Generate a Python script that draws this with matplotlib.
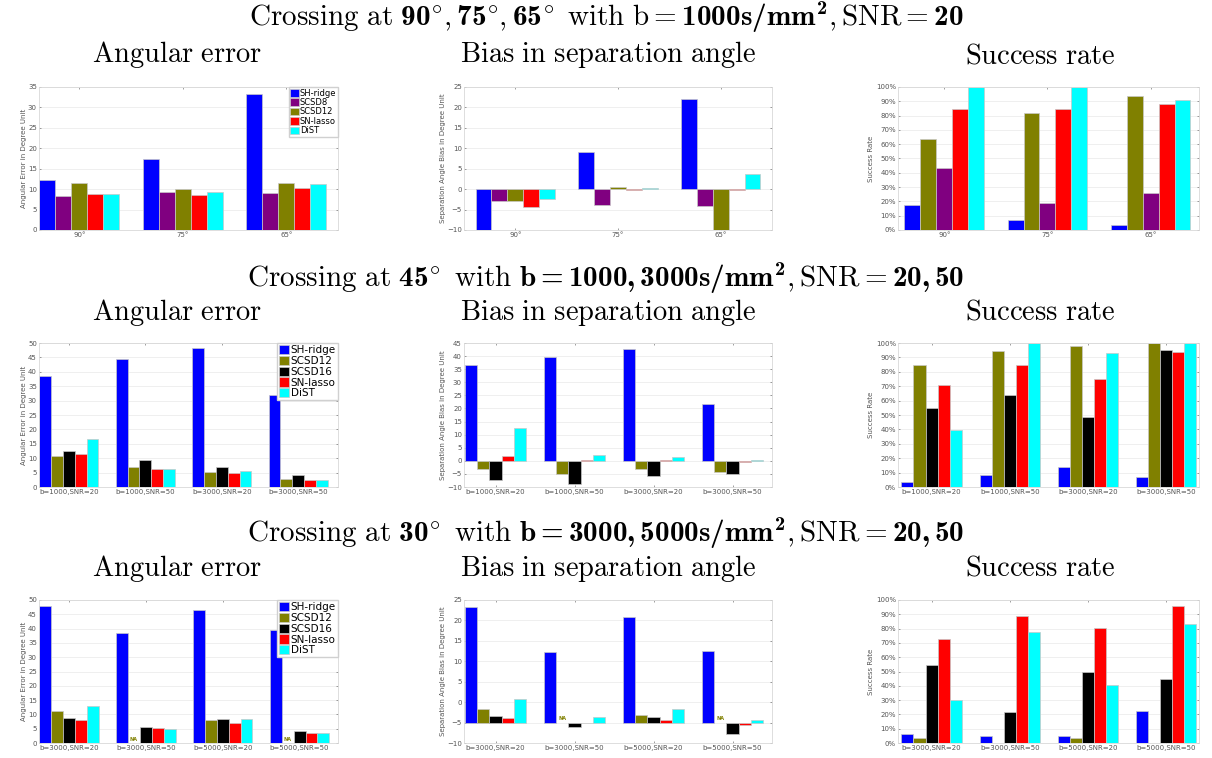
import matplotlib
matplotlib.use("Agg")
import matplotlib.pyplot as plt
import numpy as np

# computer modern text with real bold digits for the headings
plt.rcParams["mathtext.fontset"] = "custom"
plt.rcParams["mathtext.rm"] = "cmr10"
plt.rcParams["mathtext.bf"] = "cmb10"
plt.rcParams["mathtext.it"] = "cmmi10"
plt.rcParams["mathtext.fallback"] = "cm"
plt.rcParams["font.family"] = "DejaVu Sans"

# colours per method
C = {"SH-ridge": "#0000ff", "SCSD8": "#800080", "SCSD12": "#808000",
     "SCSD16": "#000000", "SN-lasso": "#ff0000", "DiST": "#00ffff"}

# ---- row 1: crossing at 90/75/65, b=1000, SNR=20
r1_groups = ["90°", "75°", "65°"]
r1_methods = ["SH-ridge", "SCSD8", "SCSD12", "SN-lasso", "DiST"]
r1_err = {"SH-ridge": [12.3, 17.3, 33.4], "SCSD8": [8.4, 9.2, 9.1],
          "SCSD12": [11.6, 10.1, 11.6], "SN-lasso": [8.7, 8.6, 10.4],
          "DiST": [8.7, 9.4, 11.3]}
r1_bias = {"SH-ridge": [-10.0, 9.0, 22.1], "SCSD8": [-3.0, -3.8, -4.2],
           "SCSD12": [-3.0, 0.5, -10.0], "SN-lasso": [-4.4, -0.3, -0.25],
           "DiST": [-2.5, 0.4, 3.8]}
r1_succ_methods = ["SH-ridge", "SCSD12", "SCSD8", "SN-lasso", "DiST"]
r1_succ = {"SH-ridge": [17.5, 7.2, 3.7], "SCSD12": [63.8, 81.8, 93.5],
           "SCSD8": [43.5, 18.7, 26.2], "SN-lasso": [84.6, 84.6, 87.9],
           "DiST": [100, 100, 90.7]}

# ---- row 2: crossing at 45
r2_groups = ["b=1000,SNR=20", "b=1000,SNR=50", "b=3000,SNR=20", "b=3000,SNR=50"]
r2_methods = ["SH-ridge", "SCSD12", "SCSD16", "SN-lasso", "DiST"]
r2_err = {"SH-ridge": [38.6, 44.6, 48.4, 32.0], "SCSD12": [10.7, 6.8, 5.3, 2.9],
          "SCSD16": [12.5, 9.5, 6.8, 4.3], "SN-lasso": [11.6, 6.2, 4.8, 2.5],
          "DiST": [16.6, 6.2, 5.7, 2.3]}
r2_bias = {"SH-ridge": [36.7, 39.5, 42.7, 21.7], "SCSD12": [-3.3, -4.9, -3.2, -4.1],
           "SCSD16": [-7.4, -9.0, -5.9, -5.1], "SN-lasso": [2.0, 0.25, 0.5, -0.6],
           "DiST": [12.4, 2.2, 1.5, 0.3]}
r2_succ = {"SH-ridge": [3.5, 8.6, 13.8, 6.8], "SCSD12": [84.8, 94.6, 98.1, 100],
           "SCSD16": [54.9, 63.8, 48.6, 95.3], "SN-lasso": [70.8, 84.8, 74.8, 93.9],
           "DiST": [39.7, 100, 92.8, 100]}

# ---- row 3: crossing at 30 (nan = not available)
r3_groups = ["b=3000,SNR=20", "b=3000,SNR=50", "b=5000,SNR=20", "b=5000,SNR=50"]
r3_methods = r2_methods
r3_err = {"SH-ridge": [48.0, 38.3, 46.5, 39.5], "SCSD12": [11.3, np.nan, 7.9, np.nan],
          "SCSD16": [8.8, 5.7, 8.4, 4.3], "SN-lasso": [8.1, 5.1, 7.0, 3.4],
          "DiST": [12.8, 4.8, 8.4, 3.4]}
r3_bias = {"SH-ridge": [23.2, 12.3, 20.9, 12.6], "SCSD12": [-1.75, np.nan, -3.1, np.nan],
           "SCSD16": [-3.4, -6.0, -3.7, -7.7], "SN-lasso": [-4.0, -5.0, -4.35, -5.65],
           "DiST": [0.7, -3.7, -1.75, -4.35]}
r3_bias_base = -5
r3_succ = {"SH-ridge": [6.5, 4.7, 4.7, 22.7], "SCSD12": [3.5, 0, 3.5, 0],
           "SCSD16": [54.4, 21.5, 49.8, 44.9], "SN-lasso": [72.9, 88.8, 80.6, 96.0],
           "DiST": [29.9, 77.6, 40.7, 83.2]}

W = 0.155
TICK_FS = 5


def style(ax, ylim, yticks, ylabel, xlim, groups, pct=False):
    ax.set_xlim(*xlim)
    ax.set_ylim(*ylim)
    ax.set_yticks(yticks)
    if pct:
        ax.set_yticklabels([f"{v}%" for v in yticks])
    ax.set_xticks(np.arange(1, len(groups) + 1))
    ax.set_xticklabels(groups)
    ax.tick_params(labelsize=TICK_FS, colors="#555555", direction="in",
                   length=1.5, width=0.4, top=True, right=True, pad=1.5)
    ax.yaxis.grid(True, color="#ececec", lw=0.6)
    ax.set_axisbelow(True)
    for s in ax.spines.values():
        s.set_color("#d8d8d8")
        s.set_linewidth(0.6)
    ax.set_ylabel(ylabel, fontsize=TICK_FS, color="#555555", labelpad=1)


def bars(ax, groups, methods, data, base=0.0, na_y=None):
    x = np.arange(1, len(groups) + 1)
    for i, m in enumerate(methods):
        v = np.array(data[m], dtype=float)
        xi = x + (i - (len(methods) - 1) / 2) * W
        ok = ~np.isnan(v)
        ax.bar(xi[ok], v[ok] - base, bottom=base, width=W, color=C[m],
               edgecolor="#c8c8c8", linewidth=0.5, label=m)
        if na_y is not None:
            for xx in xi[~ok]:
                ax.text(xx, na_y, "NA", color=C[m], fontsize=3.5,
                        fontweight="bold", ha="center", va="bottom")


def legend(ax, fs):
    ax.legend(loc="upper right", fontsize=fs, handlelength=1.0, handleheight=1.0,
              handletextpad=0.15, borderpad=0.2, labelspacing=0.05,
              borderaxespad=0.0, fancybox=False, framealpha=1,
              edgecolor="#d0d0d0").set_zorder(5)


fig = plt.figure(figsize=(12.12, 7.58), dpi=100)

rows = [(87, 230), (343, 487), (600, 743)]
cols = [(39, 338), (464, 772), (898, 1199)]


def add_ax(r, c):
    t, b = rows[r]
    l, rr = cols[c]
    return fig.add_axes([l / 1212, 1 - b / 758, (rr - l) / 1212, (b - t) / 758])


# row 1
ax = add_ax(0, 0)
bars(ax, r1_groups, r1_methods, r1_err)
style(ax, (0, 35), range(0, 36, 5), "Angular Error in Degree Unit", (0.61, 3.5), r1_groups)
legend(ax, 6)
ax = add_ax(0, 1)
bars(ax, r1_groups, r1_methods, r1_bias)
style(ax, (-10, 25), range(-10, 26, 5), "Separation Angle Bias in Degree Unit", (0.5, 3.5), r1_groups)
ax = add_ax(0, 2)
bars(ax, r1_groups, r1_succ_methods, r1_succ)
style(ax, (0, 100), range(0, 101, 10), "Success Rate", (0.55, 3.47), r1_groups, pct=True)

# row 2
ax = add_ax(1, 0)
bars(ax, r2_groups, r2_methods, r2_err)
style(ax, (0, 50), range(0, 51, 5), "Angular Error in Degree Unit", (0.61, 4.52), r2_groups)
legend(ax, 7.5)
ax = add_ax(1, 1)
bars(ax, r2_groups, r2_methods, r2_bias)
style(ax, (-10, 45), range(-10, 46, 5), "Separation Angle Bias in Degree Unit", (0.6, 4.5), r2_groups)
ax = add_ax(1, 2)
bars(ax, r2_groups, r2_methods, r2_succ)
style(ax, (0, 100), range(0, 101, 10), "Success Rate", (0.57, 4.42), r2_groups, pct=True)

# row 3
ax = add_ax(2, 0)
bars(ax, r3_groups, r3_methods, r3_err, na_y=0.5)
style(ax, (0, 50), range(0, 51, 5), "Angular Error in Degree Unit", (0.61, 4.5), r3_groups)
legend(ax, 7.5)
ax = add_ax(2, 1)
bars(ax, r3_groups, r3_methods, r3_bias, base=r3_bias_base, na_y=r3_bias_base + 0.4)
style(ax, (-10, 25), range(-10, 26, 5), "Separation Angle Bias in Degree Unit", (0.6, 4.5), r3_groups)
ax = add_ax(2, 2)
bars(ax, r3_groups, r3_methods, r3_succ)
style(ax, (0, 100), range(0, 101, 10), "Success Rate", (0.57, 4.42), r3_groups, pct=True)

# headings
titles = [
    r"$\mathrm{Crossing\ at\ }\mathbf{90}^{\!\circ}\!,\mathbf{75}^{\!\circ}\!,\mathbf{65}^{\!\circ}\mathrm{\ with\ b}=\mathbf{1000s/mm^2},\mathrm{SNR}=\mathbf{20}$",
    r"$\mathrm{Crossing\ at\ }\mathbf{45}^{\!\circ}\mathrm{\ with\ }\mathbf{b=1000,3000s/mm^2},\mathrm{SNR}=\mathbf{20,50}$",
    r"$\mathrm{Crossing\ at\ }\mathbf{30}^{\!\circ}\mathrm{\ with\ }\mathbf{b=3000,5000s/mm^2},\mathrm{SNR}=\mathbf{20,50}$",
]
title_y = [17, 278, 533]
sub_y = [55, 312, 568]
subs = [r"$\mathrm{Angular\ error}$", r"$\mathrm{Bias\ in\ separation\ angle}$",
        r"$\mathrm{Success\ rate}$"]
sub_x = [177, 608, 1040]
for t, ty, sy in zip(titles, title_y, sub_y):
    fig.text(0.5, 1 - ty / 758, t, ha="center", va="center", fontsize=21)
    for s, sx in zip(subs, sub_x):
        fig.text(sx / 1212, 1 - sy / 758, s, ha="center", va="center", fontsize=20.5)

fig.savefig("out.png", dpi=100)
